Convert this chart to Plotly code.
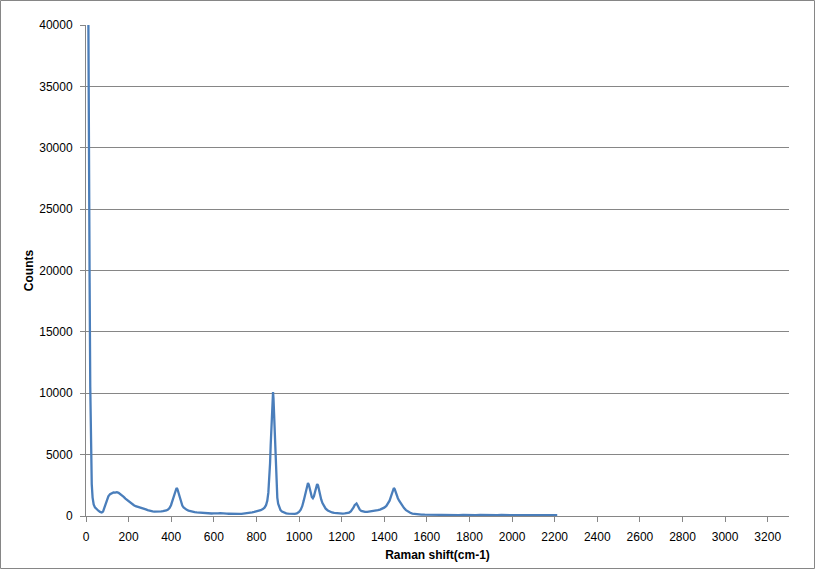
import plotly.graph_objects as go

raman_shift = [8, 11, 14, 17, 20, 23, 27, 31, 36, 42, 50, 58, 66, 74, 80, 86, 92, 98, 105, 113,
               121, 129, 137, 145, 153, 161, 169, 177, 185, 193, 201, 209, 217, 225, 233, 241, 249,
               257, 265, 273, 281, 289, 297, 305, 313, 321, 329, 337, 345, 353, 361, 369, 377, 385,
               392, 399, 405, 410, 415, 420, 425, 429, 433, 437, 441, 446, 452, 458, 465, 473, 481,
               490, 500, 510, 520, 530, 540, 550, 560, 570, 580, 590, 600, 610, 620, 630, 640, 650,
               660, 670, 680, 690, 700, 710, 720, 730, 740, 750, 760, 770, 780, 790, 800, 810, 820,
               830, 838, 845, 851, 856, 860, 864, 867, 870, 873, 876, 878, 880, 883, 886, 889, 892,
               895, 898, 902, 907, 913, 920, 930, 940, 950, 960, 970, 980, 990, 1000, 1008, 1015,
               1022, 1028, 1033, 1038, 1042, 1046, 1050, 1055, 1060, 1065, 1070, 1075, 1080, 1085,
               1089, 1093, 1098, 1104, 1110, 1117, 1125, 1135, 1145, 1155, 1165, 1175, 1185, 1195,
               1205, 1215, 1225, 1235, 1243, 1250, 1256, 1261, 1266, 1270, 1274, 1279, 1285, 1292,
               1300, 1310, 1320, 1330, 1340, 1350, 1360, 1370, 1380, 1390, 1400, 1410, 1418, 1425,
               1431, 1436, 1441, 1445, 1449, 1453, 1458, 1464, 1470, 1477, 1485, 1493, 1502, 1512,
               1522, 1532, 1545, 1560, 1575, 1590, 1610, 1630, 1650, 1670, 1690, 1710, 1730, 1750,
               1770, 1790, 1810, 1830, 1850, 1870, 1890, 1910, 1930, 1950, 1970, 1990, 2010, 2030,
               2050, 2070, 2090, 2110, 2130, 2150, 2170, 2190, 2212]

counts = [52000, 44000, 33000, 19000, 10500, 5200, 2600, 1500, 950, 700, 520, 430, 330, 280, 360,
          650, 1050, 1350, 1600, 1780, 1870, 1920, 1900, 1940, 1890, 1800, 1690, 1560, 1420, 1300,
          1170, 1060, 950, 880, 800, 760, 730, 720, 660, 610, 540, 480, 430, 400, 380, 360, 350,
          360, 345, 370, 390, 410, 450, 520, 650, 880, 1200, 1550, 1900, 2180, 2280, 2200, 1950,
          1650, 1350, 1080, 850, 700, 590, 500, 440, 390, 340, 310, 290, 270, 250, 240, 230, 215,
          225, 205, 210, 195, 220, 240, 210, 200, 190, 185, 170, 180, 165, 175, 170, 180, 195, 210,
          230, 260, 300, 330, 370, 420, 470, 560, 680, 880, 1250, 1900, 2900, 4300, 5800, 7500,
          9100, 10050, 10100, 9600, 8000, 6300, 4600, 3200, 2200, 1500, 1000, 680, 480, 360, 270,
          220, 190, 175, 165, 180, 220, 330, 520, 800, 1250, 1750, 2200, 2550, 2680, 2560, 2250,
          1850, 1550, 1450, 1600, 1950, 2350, 2600, 2500, 2150, 1750, 1350, 1050, 800, 600, 450,
          350, 290, 250, 230, 215, 200, 195, 210, 230, 280, 380, 520, 700, 880, 1000, 1020, 900,
          700, 520, 420, 370, 340, 330, 350, 370, 400, 430, 470, 520, 580, 680, 820, 1000, 1250,
          1550, 1850, 2150, 2280, 2200, 1950, 1700, 1450, 1250, 1050, 850, 650, 480, 350, 260, 200,
          160, 135, 120, 110, 100, 95, 90, 85, 95, 80, 85, 75, 90, 70, 80, 75, 85, 70, 75, 90, 70,
          80, 75, 70, 85, 70, 75, 90, 70, 80, 75, 85, 70, 80, 75]

x_ticks = list(range(0, 3201, 200))
y_ticks = list(range(0, 40001, 5000))

GRAY = "#868686"
FONT = "Liberation Sans, Arial, sans-serif"

fig = go.Figure()
fig.add_trace(go.Scatter(
    x=raman_shift, y=counts, mode="lines",
    line=dict(color="#4a7ebb", width=2.3),
    showlegend=False, hoverinfo="x+y",
))

fig.update_layout(
    width=815, height=569,
    margin=dict(l=86, r=26, t=25, b=53),
    paper_bgcolor="white", plot_bgcolor="white",
    font=dict(family=FONT, size=12, color="black"),
    shapes=[dict(type="rect", xref="paper", yref="paper",
                 x0=-85.5 / 703, x1=728.5 / 703, y0=-52.5 / 491, y1=515.5 / 491,
                 line=dict(color=GRAY, width=1), fillcolor="rgba(0,0,0,0)", layer="below")],
)

fig.update_xaxes(
    range=[0, 3300], tickvals=x_ticks, ticktext=[str(v) for v in x_ticks],
    showgrid=False, zeroline=False, showline=True, linecolor=GRAY, linewidth=1,
    ticks="outside", ticklen=5, tickcolor=GRAY, tickfont=dict(size=12),
    ticklabelstandoff=5, automargin=False,
    title=dict(text="<b>Raman shift(cm-1)</b>", font=dict(size=12), standoff=7),
)
fig.update_yaxes(
    range=[0, 40000], tickvals=y_ticks, ticktext=[str(v) for v in y_ticks],
    showgrid=True, gridcolor=GRAY, gridwidth=1, zeroline=False,
    showline=True, linecolor=GRAY, linewidth=1,
    ticks="outside", ticklen=5, tickcolor=GRAY, tickfont=dict(size=12),
    ticklabelstandoff=5, automargin=False,
    title=dict(text="<b>Counts</b>", font=dict(size=12), standoff=3),
)

fig.write_html("out.html", config={"displayModeBar": False},
               post_script="document.body.style.margin='0';")
